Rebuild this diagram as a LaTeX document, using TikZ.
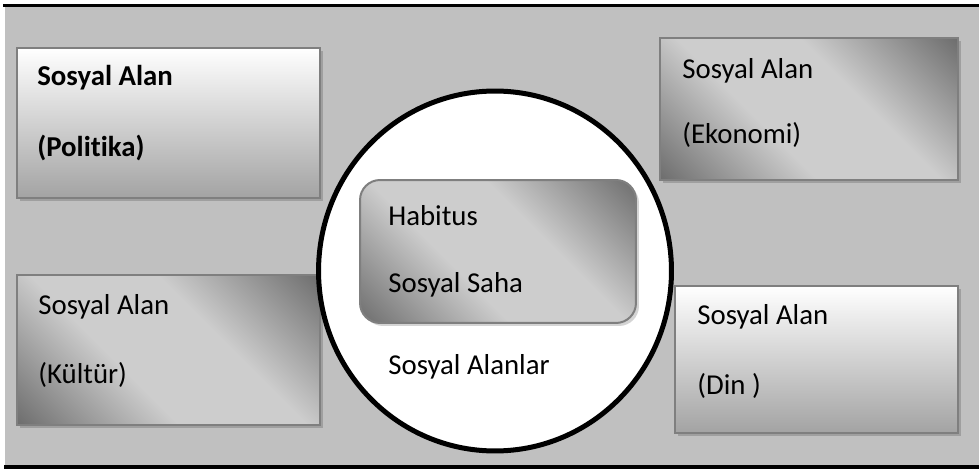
\documentclass[tikz,border=0pt]{standalone}
\usepackage{fontspec}
\setmainfont{Carlito}[Ligatures=NoCommon]
\usepackage{xcolor}
\usepackage{tikz}
\usetikzlibrary{positioning,shapes.geometric,shadows}

\definecolor{panelgray}{HTML}{C0C0C0}
\definecolor{edgegray}{HTML}{7F7F7F}
\definecolor{paperlow}{HTML}{A3A3A3}
\definecolor{steeldark}{HTML}{6B6B6B}
\definecolor{steellight}{HTML}{CDCDCD}
\pgfdeclarehorizontalshading{steelband}{100bp}{color(0bp)=(steeldark); color(14bp)=(steeldark); color(40bp)=(steellight); color(60bp)=(steellight); color(86bp)=(steeldark); color(100bp)=(steeldark)}

\begin{document}
\begin{tikzpicture}[x=0.02cm, y=-0.02cm,
    fieldbox/.style={rectangle, draw=edgegray, line width=0.04cm, inner sep=0pt,
        drop shadow={shadow xshift=0.06cm, shadow yshift=-0.06cm, fill=black, opacity=0.17}},
    paper/.style={fieldbox, top color=white, bottom color=paperlow},
    steel/.style={fieldbox, shade, shading=steelband, shading angle=45},
    fieldtext/.style={anchor=base west, inner sep=0pt, font=\fontsize{16.4}{20}\selectfont}]
        \useasboundingbox (0,0) rectangle (979,469);
        \fill[panelgray] (5,7) rectangle (979,465);
        \draw[line width=0.06cm] (3,5.5) -- (979,5.5);
        \draw[line width=0.08cm] (4,467) -- (979,467);

        \node (pol) [paper, minimum width=6.06cm, minimum height=3cm] at (168.5,123) {};
        \node (eko) [steel, minimum width=5.96cm, minimum height=2.84cm] at (809,109) {};
        \node (kul) [steel, minimum width=6.06cm, minimum height=3cm] at (168.5,350) {};
        \node (din) [paper, minimum width=5.66cm, minimum height=2.94cm] at (816.5,359.5) {};

        \node (alanlar) [ellipse, draw, fill=white, line width=0.1cm, inner sep=0pt, minimum width=7.06cm, minimum height=7.2cm] at (495,271) {};
        \node (saha) [steel, rounded corners=0.4cm, minimum width=5.52cm, minimum height=2.86cm] at (498,251.5) {};

        \node (pol1) [fieldtext] at (37,86) {\bfseries Sosyal Alan};
        \node (pol2) [fieldtext] at (37,157) {\bfseries (Politika)};
        \node (eko1) [fieldtext] at (682,79) {Sosyal Alan};
        \node (eko2) [fieldtext] at (682,144) {(Ekonomi)};
        \node (kul1) [fieldtext] at (38,314) {Sosyal Alan};
        \node (kul2) [fieldtext] at (38,383) {(Kültür)};
        \node (din1) [fieldtext] at (697,324) {Sosyal Alan};
        \node (din2) [fieldtext] at (697,394) {(Din )};
        \node (hab1) [fieldtext] at (388,226) {Habitus};
        \node (hab2) [fieldtext] at (388,293) {Sosyal Saha};
        \node (alan1) [fieldtext] at (388,374) {Sosyal Alanlar};
    \end{tikzpicture}
\end{document}
